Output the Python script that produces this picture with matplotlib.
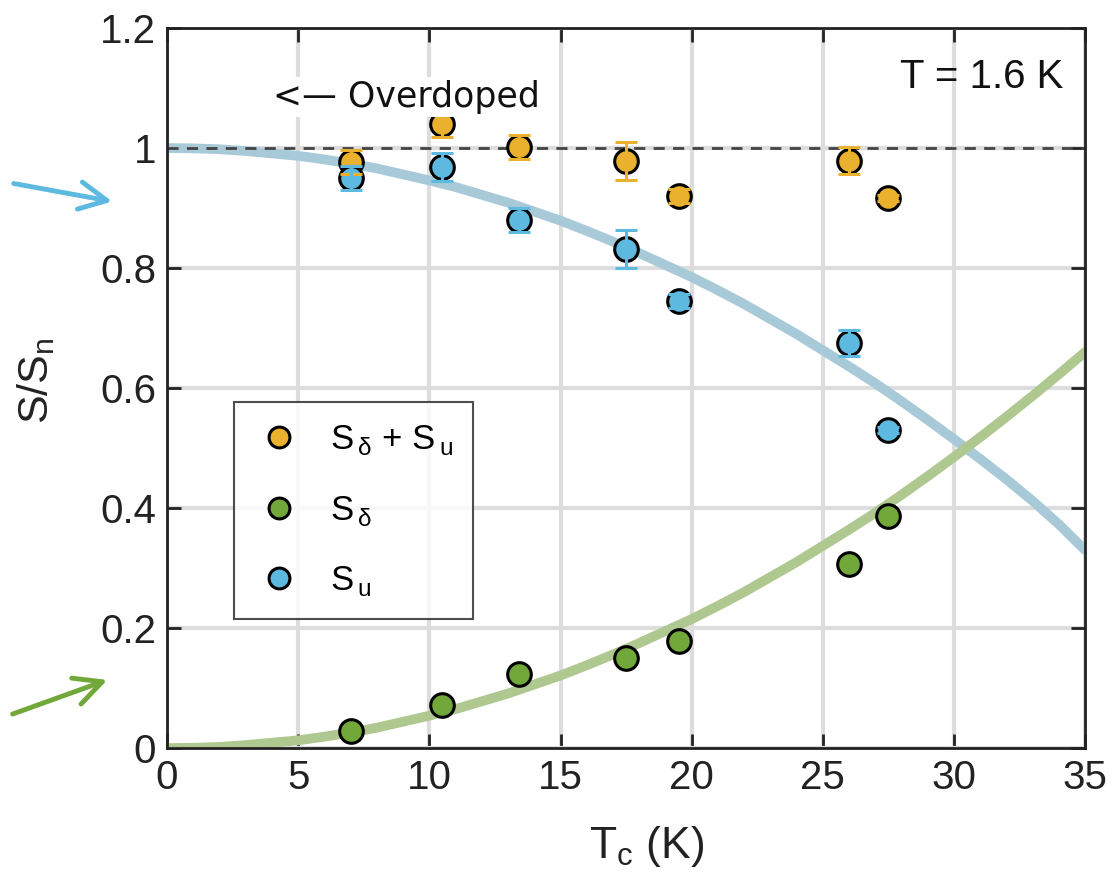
import matplotlib
matplotlib.use('Agg')
import matplotlib.pyplot as plt
from matplotlib.lines import Line2D

plt.rcParams['font.family'] = ['Liberation Sans', 'DejaVu Sans']

tc = [7, 10.5, 13.4, 17.5, 19.5, 26, 27.5]
s_total = [0.977, 1.04, 1.002, 0.978, 0.92, 0.979, 0.917]
s_total_err = [0.02, 0.022, 0.02, 0.032, 0.012, 0.022, 0.005]
s_delta = [0.028, 0.072, 0.123, 0.15, 0.178, 0.307, 0.387]
s_u = [0.95, 0.968, 0.88, 0.832, 0.745, 0.675, 0.53]
s_u_err = [0.02, 0.023, 0.02, 0.032, 0.012, 0.021, 0.005]

# model curves, one value per kelvin
curve_t = list(range(0, 36))
curve_delta = [0, 0.0005, 0.002, 0.005, 0.009, 0.013, 0.019, 0.026, 0.034, 0.044,
               0.054, 0.065, 0.078, 0.091, 0.106, 0.121, 0.138, 0.156, 0.175, 0.195,
               0.215, 0.237, 0.26, 0.285, 0.31, 0.337, 0.364, 0.392, 0.422, 0.453,
               0.485, 0.518, 0.552, 0.587, 0.623, 0.66]
curve_u = [1.0, 0.9995, 0.998, 0.995, 0.991, 0.987, 0.981, 0.974, 0.966, 0.956,
           0.946, 0.935, 0.922, 0.909, 0.894, 0.879, 0.862, 0.844, 0.825, 0.805,
           0.785, 0.763, 0.74, 0.715, 0.69, 0.663, 0.636, 0.608, 0.578, 0.547,
           0.515, 0.482, 0.448, 0.412, 0.373, 0.33]

c_or = '#EAB12E'
c_gr = '#72A83A'
c_bl = '#5DB9E0'

fig = plt.figure(figsize=(11.14, 8.76), dpi=100)
ax = fig.add_axes([0.150, 0.146, 0.824, 0.822])

ax.plot(curve_t, curve_u, color='#A8CAD8', lw=7, solid_capstyle='round', zorder=2)
ax.plot(curve_t, curve_delta, color='#AFC890', lw=7, solid_capstyle='round', zorder=2)
ax.axhline(1, color='#444444', lw=2, ls=(0, (4, 3)), zorder=2)

mk = dict(marker='o', ms=17, mec='black', mew=2.2, ls='none', zorder=4)
ax.plot(tc, s_total, mfc=c_or, **mk)
ax.plot(tc, s_u, mfc=c_bl, **mk)
ax.plot(tc, s_delta, mfc=c_gr, **mk)
ax.errorbar(tc, s_total, yerr=s_total_err, fmt='none', ecolor=c_or,
            elinewidth=2.2, capsize=8, capthick=2.2, zorder=5)
ax.errorbar(tc, s_u, yerr=s_u_err, fmt='none', ecolor=c_bl,
            elinewidth=2.2, capsize=8, capthick=2.2, zorder=5)

ax.set_xlim(0, 35)
ax.set_ylim(0, 1.2)
ax.set_xticks(range(0, 36, 5))
ax.set_yticks([0, 0.2, 0.4, 0.6, 0.8, 1, 1.2])
ax.set_yticklabels(['0', '0.2', '0.4', '0.6', '0.8', '1', '1.2'])
ax.grid(True, color='#DDDDDD', lw=3)
ax.set_axisbelow(True)
ax.tick_params(direction='in', length=10, width=2, labelsize=29, colors='#222222',
               top=True, right=True, pad=8)
for sp in ax.spines.values():
    sp.set_linewidth(2)
    sp.set_color('#222222')

ax.set_xlabel(r'T$_\mathregular{c}$ (K)', fontsize=32, color='#222222')
ax.xaxis.set_label_coords(0.522, -0.105)
ax.set_ylabel(r'S/S$_\mathregular{n}$', fontsize=31, color='#222222')
ax.yaxis.set_label_coords(-0.12, 0.51)

ax.text(0.976, 0.932, 'T = 1.6 K', transform=ax.transAxes, fontsize=29,
        ha='right', va='center', color='#111111')
ax.text(4.04, 1.085, '<\u2014 Overdoped', fontsize=25, family='DejaVu Sans',
        ha='left', va='center', color='#111111', zorder=6,
        bbox=dict(facecolor='white', edgecolor='none', pad=2))

handles = [Line2D([], [], marker='o', ms=15, mfc=c, mec='black', mew=2.2, ls='none')
           for c in (c_or, c_gr, c_bl)]
labels = [r'S$_\mathregular{\,δ}$ + S$_\mathregular{\,u}$', r'S$_\mathregular{\,δ}$',
          r'S$_\mathregular{\,u}$']
leg = ax.legend(handles, labels, loc='upper left', bbox_to_anchor=(0.073, 0.48),
                fontsize=25, frameon=True, fancybox=False, edgecolor='#222222',
                labelspacing=1.05, handlelength=1.4, handletextpad=0.75,
                borderpad=0.6, borderaxespad=0)
leg.get_frame().set_linewidth(1.5)

# arrows left of the axis (figure pixels, origin bottom left)
arrow = dict(arrowstyle='->,head_length=0.9,head_width=0.45', lw=3.5,
             mutation_scale=22, capstyle='round', joinstyle='round')
ax.annotate('', xy=(115, 876 - 202), xytext=(11, 876 - 183), xycoords='figure pixels',
            textcoords='figure pixels', annotation_clip=False,
            arrowprops=dict(color=c_bl, **arrow))
ax.annotate('', xy=(110, 876 - 679), xytext=(10, 876 - 715), xycoords='figure pixels',
            textcoords='figure pixels', annotation_clip=False,
            arrowprops=dict(color=c_gr, **arrow))

fig.savefig('out.png', dpi=100)
